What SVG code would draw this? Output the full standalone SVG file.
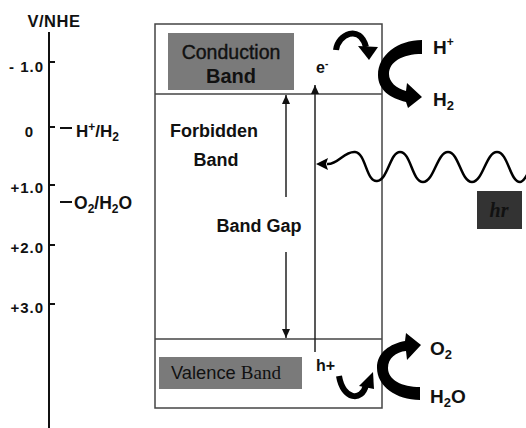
<svg xmlns="http://www.w3.org/2000/svg" width="526" height="428" viewBox="0 0 526 428">
<style>
.t{font-family:"Liberation Sans",Arial,sans-serif;fill:#111}
.b{font-weight:bold}
.ln{stroke:#444;stroke-width:1.5;fill:none}
.ax{stroke:#111;stroke-width:2;fill:none}
.thin{stroke:#222;stroke-width:1.5;fill:none}
.blk{fill:#000}
.tk{font-family:"Liberation Sans",Arial,sans-serif;fill:#111;font-weight:bold;font-size:15px;letter-spacing:1px}
</style>
<defs>
<marker id="ah" markerWidth="10" markerHeight="10" refX="9" refY="5" orient="auto" markerUnits="userSpaceOnUse">
<path d="M0,1 L9,5 L0,9 Z" fill="#111"/>
</marker>
</defs>
<rect width="526" height="428" fill="#fff"/>

<g id="axis">
<line class="ax" x1="49" y1="32" x2="49" y2="428"/>
<g class="ax">
<line x1="49" y1="62" x2="55" y2="62"/>
<line x1="49" y1="127" x2="55" y2="127"/>
<line x1="49" y1="185" x2="55" y2="185"/>
<line x1="49" y1="245" x2="55" y2="245"/>
<line x1="49" y1="304" x2="55" y2="304"/>
<line x1="60" y1="128" x2="72" y2="128"/>
<line x1="60" y1="202" x2="72" y2="202"/>
</g>
<text class="tk" x="54" y="27" style="font-size:16.5px;letter-spacing:0.5px" text-anchor="middle">V/NHE</text>
<text class="tk" x="44" y="72" text-anchor="end">- 1.0</text>
<text class="tk" x="34" y="137" text-anchor="end">0</text>
<text class="tk" x="44" y="193" text-anchor="end">+1.0</text>
<text class="tk" x="44" y="253" text-anchor="end">+2.0</text>
<text class="tk" x="44" y="313" text-anchor="end">+3.0</text>
<text class="t b" x="76" y="137" font-size="17">H<tspan font-size="12" dy="-6">+</tspan><tspan dy="6">/H</tspan><tspan font-size="12" dy="4">2</tspan></text>
<text class="t b" x="74" y="209" font-size="17.5">O<tspan font-size="12" dy="4">2</tspan><tspan dy="-4">/H</tspan><tspan font-size="12" dy="4">2</tspan><tspan dy="-4">O</tspan></text>
</g>

<g id="box">
<rect class="ln" x="155" y="24" width="227" height="384"/>
<line class="ln" x1="155" y1="94" x2="382" y2="94"/>
<line class="ln" x1="155" y1="339" x2="382" y2="339"/>
</g>

<g id="conduction-band">
<rect x="168" y="33" width="126" height="57" fill="#7a7a7a"/>
<text class="t" x="231" y="59" font-size="19.5" text-anchor="middle" stroke="#111" stroke-width="0.4">Conduction</text>
<text class="t b" x="231" y="83" font-size="20" text-anchor="middle">Band</text>
</g>

<g id="valence-band">
<rect x="159" y="357" width="143" height="32" fill="#7a7a7a"/>
<text x="171" y="379" font-size="18.3" class="t">Valence <tspan font-family="'Liberation Serif','Times New Roman',serif" font-size="19">Band</tspan></text>
</g>

<g id="forbidden-band">
<text class="t b" x="214" y="137" font-size="18" text-anchor="middle">Forbidden</text>
<text class="t b" x="216" y="166" font-size="18" text-anchor="middle">Band</text>
</g>

<g id="band-gap">
<text class="t b" x="259" y="232" font-size="18" text-anchor="middle">Band Gap</text>
</g>

<g id="connectors">
<line class="thin" x1="286" y1="197" x2="286" y2="95" marker-end="url(#ah)"/>
<line class="thin" x1="286" y1="252" x2="286" y2="338" marker-end="url(#ah)"/>
<line class="thin" x1="315" y1="352" x2="315" y2="85" marker-end="url(#ah)"/>
<path d="M 327 164 C 338 165, 344 151, 355 152 C 366 153, 366 182, 377 181 C 388 180, 390 152, 400 152 C 411 152, 412 182, 423 182 C 434 182, 437 152, 448 152 C 459 152, 461 182, 472 182 C 483 182, 486 152, 497 152 C 508 152, 510 182, 520 182 C 523 182, 525 178, 527 175" fill="none" stroke="#000" stroke-width="2.5"/>
<path d="M 316 164 L 328 158 L 326 164 L 328 170 Z" class="blk"/>
<path d="M 336 50 C 338 34, 360 24, 366 47" fill="none" stroke="#000" stroke-width="6"/>
<path d="M 358 46 L 378 47 L 369 60 Z" class="blk"/>
<path d="M 339 376 C 343 400, 362 402, 366 385" fill="none" stroke="#000" stroke-width="6"/>
<path d="M 359 386 L 374 389 L 373 372 Z" class="blk"/>
<path d="M 422 40 C 398 40, 378 55, 378 75 C 378 90, 390 98, 406 102 L 408 108 L 422 97 L 407 83 L 406 91 C 396 88, 389 82, 389 74 C 389 62, 402 54, 422 54 Z" class="blk"/>
<path d="M 420 400 C 396 400, 377 386, 377 368 C 377 352, 390 344, 405 341 L 406 333 L 421 345 L 407 360 L 406 351 C 396 352, 388 358, 388 368 C 388 380, 402 387, 420 387 Z" class="blk"/>
</g>

<g id="labels">
<text class="t b" x="316" y="73" font-size="16">e<tspan font-size="10" dy="-6">-</tspan></text>
<text class="t b" x="316" y="371" font-size="16">h+</text>
<text class="t b" x="433" y="54" font-size="19">H<tspan font-size="12" dy="-8">+</tspan></text>
<text class="t b" x="433" y="106" font-size="19">H<tspan font-size="13" dy="4">2</tspan></text>
<text class="t b" x="430" y="355" font-size="19">O<tspan font-size="13" dy="4">2</tspan></text>
<text class="t b" x="430" y="403" font-size="19">H<tspan font-size="13" dy="4">2</tspan><tspan dy="-4">O</tspan></text>
</g>

<g id="hv">
<rect x="477" y="191" width="45" height="38" fill="#333"/>
<text x="499" y="217" font-size="20" font-family="'Liberation Serif','Times New Roman',serif" font-style="italic" font-weight="bold" fill="#111" text-anchor="middle">hr</text>
</g>
</svg>
